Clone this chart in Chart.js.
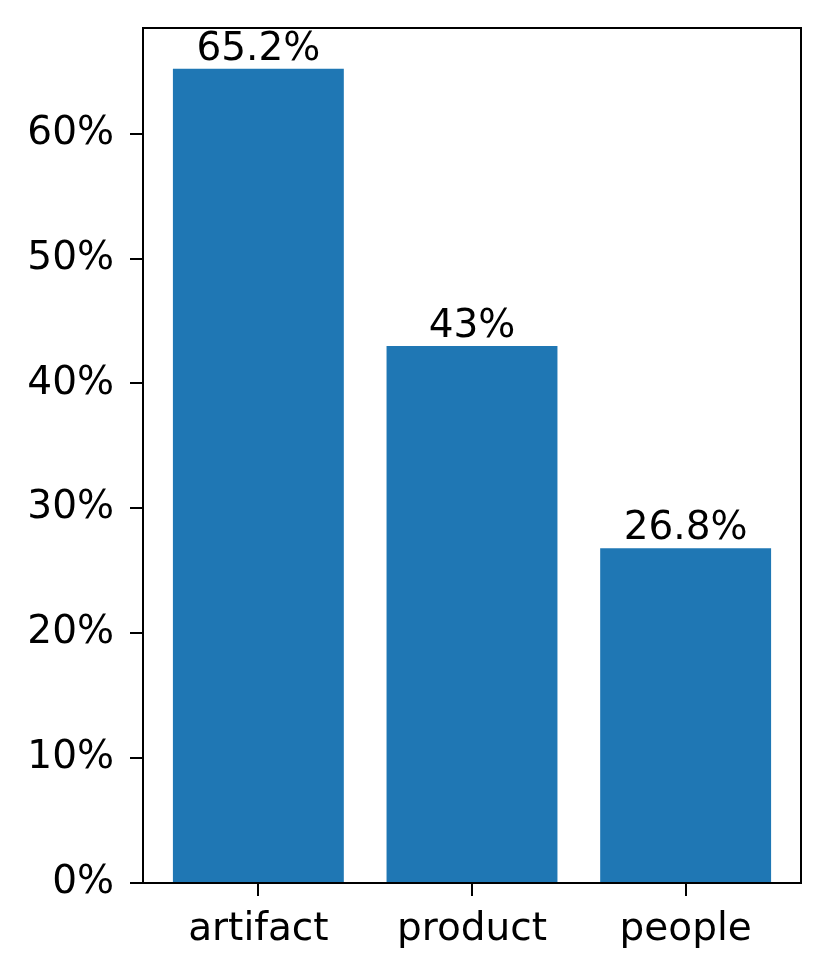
<!DOCTYPE html>
<html>
<head>
<meta charset="utf-8">
<script src="https://cdn.jsdelivr.net/npm/chart.js@4.4.1/dist/chart.umd.min.js"></script>
<style>
  html, body { margin: 0; padding: 0; background: #fff; }
  #wrap { width: 831px; height: 978px; }
</style>
</head>
<body>
<div id="wrap"><canvas id="chart" width="831" height="978"></canvas></div>
<script>
const categories = ["artifact", "product", "people"];
const shares = [65.2, 43, 26.8];
const yTicks = [0, 10, 20, 30, 40, 50, 60];

const FONT = "DejaVu Sans";
const FONT_SIZE = 39;
const BLUE = "#1f77b4";

// 上と右の枠線（matplotlibのspine）
const boxPlugin = {
  id: "box",
  afterDatasetsDraw(chart) {
    const { ctx, chartArea: a } = chart;
    ctx.save();
    ctx.strokeStyle = "#000";
    ctx.lineWidth = 2;
    ctx.beginPath();
    ctx.moveTo(a.left, a.top);
    ctx.lineTo(a.right, a.top);
    ctx.lineTo(a.right, a.bottom);
    ctx.stroke();
    ctx.restore();
  }
};

// 棒の上の値ラベル
const barLabelPlugin = {
  id: "barLabel",
  afterDatasetsDraw(chart) {
    const { ctx } = chart;
    const meta = chart.getDatasetMeta(0);
    ctx.save();
    ctx.fillStyle = "#000";
    ctx.font = `${FONT_SIZE}px "${FONT}"`;
    ctx.textAlign = "center";
    ctx.textBaseline = "alphabetic";
    meta.data.forEach((bar, i) => {
      ctx.fillText(`${shares[i]}%`, bar.x, bar.y - 9);
    });
    ctx.restore();
  }
};

const ctx = document.getElementById("chart").getContext("2d");
new Chart(ctx, {
  type: "bar",
  data: {
    datasets: [{
      data: shares.map((v, i) => ({ x: i, y: v })),
      backgroundColor: BLUE,
      borderWidth: 0,
      barPercentage: 0.8,
      categoryPercentage: 1.0
    }]
  },
  options: {
    responsive: false,
    animation: false,
    layout: { padding: { top: 28, right: 30, left: 0, bottom: 0 } },
    plugins: { legend: { display: false }, tooltip: { enabled: false } },
    scales: {
      x: {
        type: "linear",
        offset: false,
        min: -0.54,
        max: 2.54,
        afterBuildTicks: s => { s.ticks = categories.map((_, i) => ({ value: i })); },
        afterFit: s => { s.height = 95; s.paddingLeft = 0; s.paddingRight = 0; },
        grid: { display: true, offset: false, drawOnChartArea: false, drawTicks: true, tickLength: 13, color: "#000", lineWidth: 2 },
        border: { display: true, color: "#000", width: 2 },
        ticks: {
          color: "#000",
          font: { family: FONT, size: FONT_SIZE },
          padding: 10,
          maxRotation: 0,
          autoSkip: false,
          callback: v => categories[v]
        }
      },
      y: {
        min: 0,
        max: 68.46,
        afterBuildTicks: s => { s.ticks = yTicks.map(v => ({ value: v })); },
        afterFit: s => { s.width = 143; s.paddingTop = 0; s.paddingBottom = 0; },
        grid: { display: true, drawOnChartArea: false, drawTicks: true, tickLength: 13, color: "#000", lineWidth: 2 },
        border: { display: true, color: "#000", width: 2 },
        ticks: {
          color: "#000",
          font: { family: FONT, size: FONT_SIZE },
          padding: 16,
          callback: v => `${v}%`
        }
      }
    }
  },
  plugins: [boxPlugin, barLabelPlugin]
});
</script>
</body>
</html>
